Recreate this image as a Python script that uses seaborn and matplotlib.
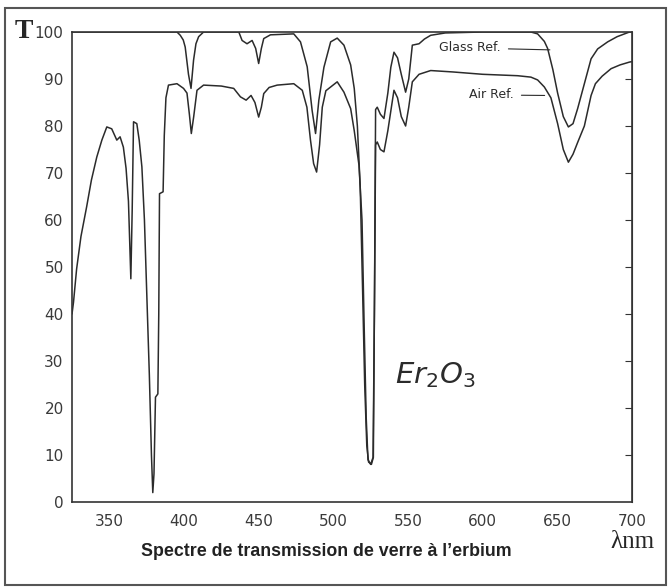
import matplotlib
matplotlib.use('Agg')
import matplotlib.pyplot as plt
import seaborn as sns
from matplotlib import font_manager
from matplotlib.patches import Rectangle

# Courbe "Air Ref." (courbe du bas)
wl_air = [
    325, 326, 328.1, 331, 334.8, 338, 341.6, 345, 348.3, 351.6,
    355, 357.2, 359.4, 361.2, 362.8, 364.4, 365.3, 366.2, 368.4, 370,
    371.8, 373.5, 375.1, 376.8, 378.2, 379.1, 379.9, 380.9, 382.5, 383.1,
    383.6, 386.0, 386.8, 387.9, 389.6, 395.3, 399.7, 402, 403.6, 404.9,
    406.5, 408.7, 413.1, 425, 433.3, 437.8, 441.6, 444.9, 447.5, 450,
    451.8, 453.4, 457, 462.4, 473.5, 479.2, 482.3, 484.7, 486.8, 488.8,
    490.8, 492.6, 495, 498.2, 502.6, 507.1, 511.6, 514, 517.2, 519.2,
    520.6, 522, 523.2, 525, 526.6, 527.5, 528.3, 529.4, 531.5, 533.9,
    536.5, 540.6, 543, 545.5, 548.4, 550.5, 552.9, 557.4, 565.2, 580,
    600, 623.4, 632.3, 636.8, 641.3, 645.7, 650.2, 654, 657.4, 660.5,
    663.6, 668.1, 672.6, 675.5, 680, 686, 692, 698.3, 700]
T_air = [
    40, 42.5, 49.6, 56.5, 62.8, 68.5, 73.4, 77, 79.8, 79.4,
    77, 77.7, 75.5, 71, 64, 47.5, 62, 80.9, 80.5, 77,
    71.3, 60, 44, 27, 10, 2, 6, 22.3, 23, 40,
    65.6, 66, 78, 86, 88.7, 89, 88, 87, 82.5, 78.4,
    82, 87.6, 88.7, 88.5, 88, 86.2, 85.5, 86.5, 85, 81.9,
    84, 86.9, 88.2, 88.7, 89, 87.6, 84, 77, 72, 70.2,
    76, 84, 87.5, 88.3, 89.4, 87.2, 83.7, 79, 71.6, 60,
    38, 18, 9, 8, 9.5, 40, 76, 76.6, 75, 74.5,
    79, 87.6, 86, 82, 80, 84, 89.4, 91, 91.8, 91.5,
    91, 90.7, 90.4, 89.8, 88.3, 86, 80.5, 75, 72.3, 74,
    76.5, 80, 86.5, 89, 90.6, 92.2, 93, 93.6, 93.7]

# Courbe "Glass Ref." (courbe du haut)
wl_glass = [
    325, 360, 395.3, 397.5, 399.5, 400.8, 403, 404.7, 406.4, 408,
    409.8, 413.1, 436.7, 438.9, 442.2, 445.6, 448, 450, 451.8, 453.4,
    457.9, 473.5, 478, 482.5, 485.8, 488.1, 490.3, 493.7, 498.2, 502.6,
    507.1, 511.6, 514, 516.1, 518, 519.6, 521, 522.4, 523.6, 525.5,
    526.8, 527.6, 528.3, 529.4, 531.5, 533.9, 536.5, 538.5, 540.6, 543,
    545.5, 548.4, 550.5, 552.9, 557.4, 561, 565.2, 575, 600, 632.3,
    636.8, 641.3, 643.5, 647, 650.2, 654, 657.4, 660.5, 663.6, 668.1,
    672.6, 677, 683.7, 690, 698.3, 700]
T_glass = [
    100, 100, 100, 99.3, 98.3, 96.8, 91, 88, 94, 97.5,
    99, 100, 100, 98.2, 97.5, 98.2, 96.5, 93.3, 96.5, 98.6,
    99.4, 99.6, 97.9, 92.6, 83.3, 78.4, 85.5, 92.5, 97.9, 98.7,
    97.2, 93, 88, 80, 67, 45, 25, 12, 8.5, 8,
    9.5, 45, 83.5, 84, 82.5, 81.6, 87, 92.5, 95.7, 94.5,
    91, 87.2, 90, 97.2, 97.5, 98.5, 99.3, 99.8, 100, 100,
    99.6, 98, 96.5, 92, 87, 82, 79.8, 80.5, 83.7, 89,
    94.3, 96.4, 97.9, 99, 100, 100]

x_ticks = [350, 400, 450, 500, 550, 600, 650, 700]
y_ticks = [0, 10, 20, 30, 40, 50, 60, 70, 80, 90, 100]
titre = "Spectre de transmission de verre à l’erbium"

ink = '#2b2b2b'

sns.set_style('white')
plt.rcParams['font.family'] = ['DejaVu Sans']
noms = {f.name for f in font_manager.fontManager.ttflist}
if 'Liberation Sans Narrow' in noms:
    police_titre, taille_titre = 'Liberation Sans Narrow', 14
else:
    police_titre, taille_titre = 'Liberation Sans', 12.8

fig = plt.figure(figsize=(6.68, 5.87), dpi=100)
ax = fig.add_axes([72 / 668, 85 / 587, 560 / 668, 470 / 587])

sns.lineplot(x=wl_glass, y=T_glass, ax=ax, color=ink, lw=1.1, sort=False, estimator=None)
sns.lineplot(x=wl_air, y=T_air, ax=ax, color=ink, lw=1.1, sort=False, estimator=None)

ax.set_xlim(325, 700)
ax.set_ylim(0, 100)
ax.set_xticks(x_ticks)
ax.set_yticks(y_ticks)
ax.tick_params(axis='x', direction='in', length=5, pad=9, labelsize=11, colors='#3a3a3a')
ax.tick_params(axis='y', direction='out', length=4, pad=2, labelsize=11, colors='#3a3a3a')
for s in ax.spines.values():
    s.set_color('#333')
    s.set_linewidth(1.2)

# graduations à droite, vers l'intérieur
sec = ax.secondary_yaxis('right')
sec.set_yticks(y_ticks[1:-1])
sec.tick_params(direction='in', length=5, labelright=False, colors='#333')
sec.spines['right'].set_color('#333')

# étiquettes des courbes
ax.annotate('Glass Ref.', xy=(645, 96.2), xytext=(571, 96.6), va='center',
            fontsize=9, color=ink,
            arrowprops=dict(arrowstyle='-', color=ink, lw=0.8, shrinkA=3, shrinkB=0))
ax.annotate('Air Ref.', xy=(641.5, 86.5), xytext=(591, 86.6), va='center',
            fontsize=9, color=ink,
            arrowprops=dict(arrowstyle='-', color=ink, lw=0.8, shrinkA=3, shrinkB=0))
ax.text(541, 27, r'$Er_2O_3$', fontsize=21, color=ink, va='center')

fig.text(24 / 668, 1 - 31 / 587, 'T', family='Liberation Serif', weight='bold',
         fontsize=20, ha='center', va='center')
fig.text(632 / 668, 1 - 542 / 587, 'λnm', family='Liberation Serif',
         fontsize=18, ha='center', va='center')
fig.text(326 / 668, 1 - 552 / 587, titre, family=police_titre, weight='bold',
         fontsize=taille_titre, ha='center', va='center', color='#222')

# cadre extérieur
fig.patches.append(Rectangle((5 / 668, 2 / 587), 661 / 668, 577 / 587,
                             transform=fig.transFigure, fill=False,
                             ec='#555', lw=1.5))

fig.savefig('out.png', dpi=100)
